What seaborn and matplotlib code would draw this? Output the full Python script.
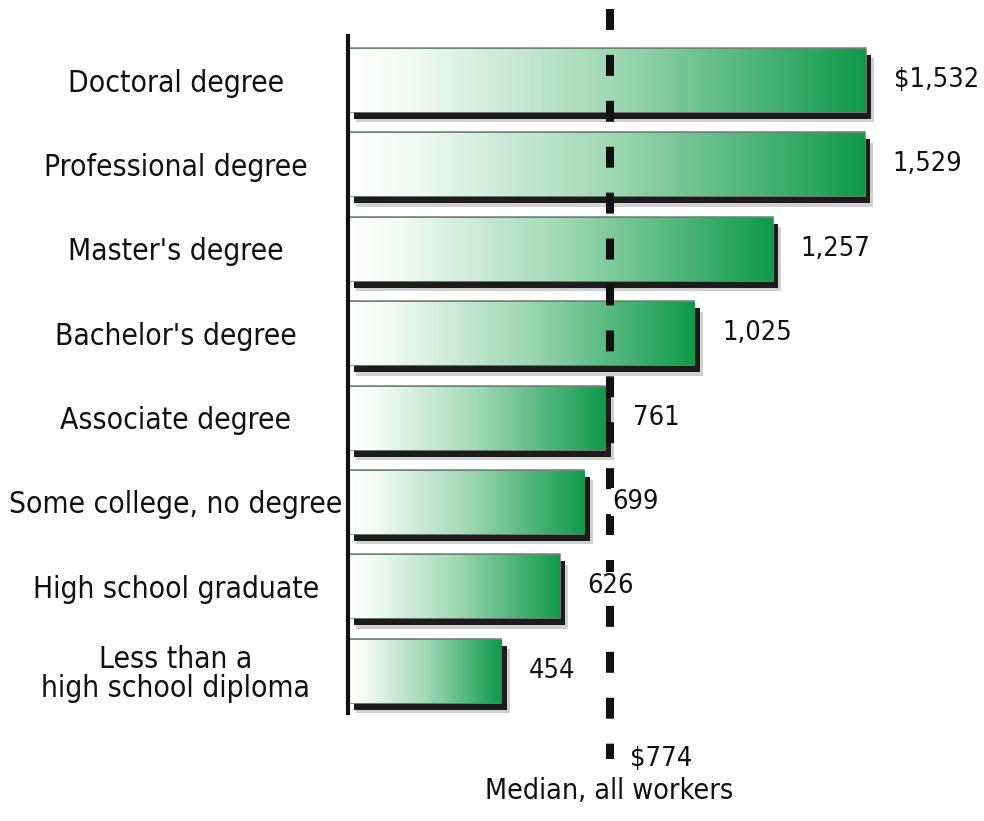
import matplotlib as mpl
mpl.use('Agg')
import matplotlib.pyplot as plt
import matplotlib.patheffects as pe
from matplotlib import font_manager
from matplotlib.colors import LinearSegmentedColormap
import numpy as np
import pandas as pd
import seaborn as sns

# ── Data ──────────────────────────────────────────────────────────────────
education = ['Doctoral degree', 'Professional degree', "Master's degree",
             "Bachelor's degree", 'Associate degree', 'Some college, no degree',
             'High school graduate', 'Less than a\nhigh school diploma']
weekly_earnings = [1532, 1529, 1257, 1025, 761, 699, 626, 454]
value_labels = ['$1,532', '1,529', '1,257', '1,025', '761', '699', '626', '454']
median_all = 774
median_label = '$774'
median_caption = 'Median, all workers'

# ── Style ─────────────────────────────────────────────────────────────────
sns.set_theme(style='white')


def pick_narrow_font():
    """Find a condensed / narrow sans if one is installed."""
    fl = font_manager.fontManager.ttflist
    prefs = ['Liberation Sans Narrow', 'DejaVu Sans', 'Noto Sans', 'Open Sans',
             'Roboto Condensed', 'Roboto', 'Lato', 'Inter']
    for name in prefs:
        for f in fl:
            if f.name != name or f.style != 'normal':
                continue
            if f.weight not in (400, 'normal', 'regular', 'book'):
                continue
            narrow = ('Narrow' in f.name or 'Condensed' in f.name
                      or f.stretch in ('condensed', 'semi-condensed',
                                       'extra-condensed', 500 - 125, 75, 62.5, 87.5)
                      or 'ondensed' in f.fname)
            if narrow:
                return f.name, f.stretch, True
    return 'DejaVu Sans', 'normal', False


FONT, STRETCH, NARROW = pick_narrow_font()
plt.rcParams['font.family'] = [FONT, 'DejaVu Sans']
plt.rcParams['font.stretch'] = STRETCH
FS = 21.5 if NARROW else 19
FS_VAL = FS - 2
INK = '#111111'
GREEN_CMAP = LinearSegmentedColormap.from_list(
    'grad', [(0, '#ffffff'), (0.12, '#f2faf5'), (0.5, '#a2d9b7'), (1, '#0f9a4a')])

df = pd.DataFrame({'education': education, 'earnings': weekly_earnings})

W, H = 984, 821
AX_LEFT = 348
PX_PER_UNIT = 0.338
fig = plt.figure(figsize=(W / 100, H / 100), dpi=100)
ax = fig.add_axes([AX_LEFT / W, 0, (W - AX_LEFT) / W, 1])

sns.barplot(data=df, x='earnings', y='education', order=education,
            color='#0f9a4a', width=0.76, edgecolor='#7d877f', linewidth=1.2,
            ax=ax, zorder=2)

shadow = [pe.SimplePatchShadow(offset=(6, -7.5), shadow_rgbFace='#666666', alpha=0.3),
          pe.SimplePatchShadow(offset=(4, -5), shadow_rgbFace='#1c1c1c', alpha=1.0),
          pe.Normal()]
grad = np.linspace(0, 1, 256).reshape(1, -1)
for bar in list(ax.patches):
    bar.set_path_effects(shadow)
    x0, y0, w, h = bar.get_x(), bar.get_y(), bar.get_width(), bar.get_height()
    im = ax.imshow(grad, cmap=GREEN_CMAP, aspect='auto', zorder=3,
                   extent=[x0, x0 + w, y0 + h, y0 + 0.015], interpolation='bicubic')
    im.set_clip_path(bar)

# value labels (white backing hides the dashes they sit on)
for i, (v, lab) in enumerate(zip(weekly_earnings, value_labels)):
    ax.annotate(lab, xy=(v, i), xytext=(20, 0), textcoords='offset points',
                ha='left', va='center', fontsize=FS_VAL, color=INK, zorder=7,
                bbox=dict(boxstyle='square,pad=0.05', fc='white', ec='none'))

# median dashed line
ax.plot([median_all, median_all], [-0.84, 8.05], color=INK, lw=5.8,
        linestyle=(0, (2.6, 3.1)), dash_capstyle='butt', zorder=5)
ax.annotate(median_label, xy=(median_all, 8.05), xytext=(15, 0),
            textcoords='offset points', ha='left', va='center',
            fontsize=FS_VAL, color=INK)
ax.annotate(median_caption, xy=(median_all, 8.42), ha='center', va='center',
            fontsize=FS - 1, color=INK)

ax.set_xlim(0, (W - AX_LEFT) / PX_PER_UNIT)
ax.set_ylim(8.78, -0.948)
ax.set_xlabel('')
ax.set_ylabel('')
ax.set_xticks([])
for s in ['top', 'right', 'bottom']:
    ax.spines[s].set_visible(False)
ax.spines['left'].set_bounds(-0.52, 7.5)
ax.spines['left'].set_linewidth(3)
ax.spines['left'].set_color(INK)
ax.spines['left'].set_zorder(6)
ax.tick_params(axis='y', length=0, pad=124, labelsize=FS, labelcolor=INK)
for t in ax.get_yticklabels():
    t.set_ha('center')
    t.set_multialignment('center')
    t.set_linespacing(1.0)

fig.savefig('out.png', dpi=100, facecolor='white')
